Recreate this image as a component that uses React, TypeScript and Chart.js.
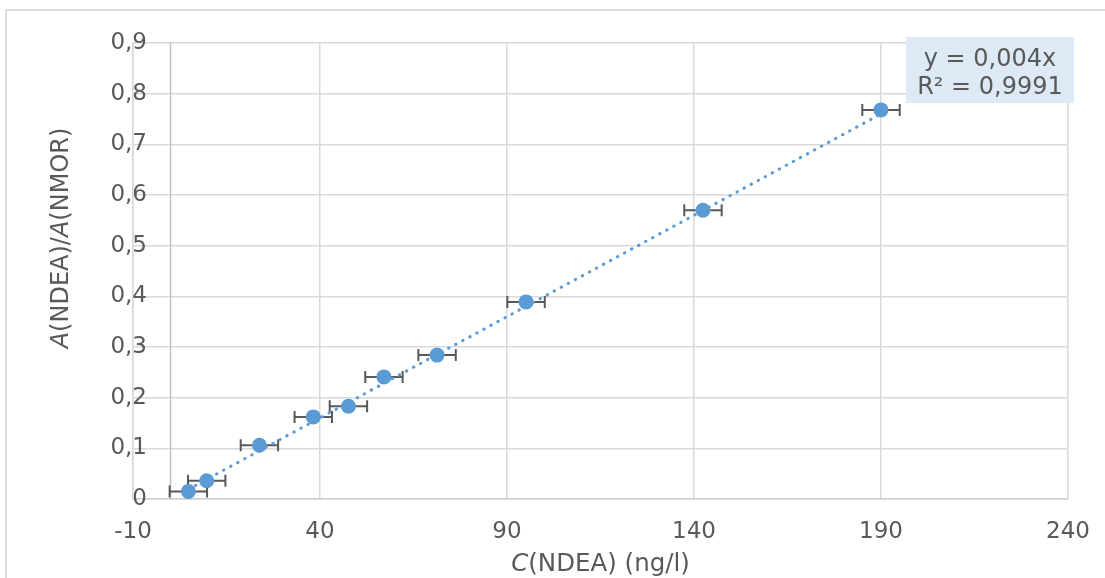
import React, { useEffect, useRef } from "react";
import { Chart, registerables } from "chart.js";

Chart.register(...registerables);

// ---- data ----
const concentrations = [4.8, 9.7, 23.8, 38.2, 47.6, 57.1, 71.3, 95.1, 142.4, 190.0];
const ratios = [0.015, 0.036, 0.106, 0.162, 0.183, 0.241, 0.284, 0.389, 0.570, 0.768];
const concentrationErrors = [5, 5, 5, 5, 5, 5, 5, 5, 5, 5];

const xTickValues = [-10, 40, 90, 140, 190, 240];
const xTickLabels = ["-10", "40", "90", "140", "190", "240"];
const yTickValues = [0, 0.1, 0.2, 0.3, 0.4, 0.5, 0.6, 0.7, 0.8, 0.9];
const yTickLabels = ["0", "0,1", "0,2", "0,3", "0,4", "0,5", "0,6", "0,7", "0,8", "0,9"];

const trendSlope = 0.004;
const trendX = [4.8, 190.0];
const equationLines = ["y = 0,004x", "R² = 0,9991"];

const xTitle = [
  { text: "C", italic: true },
  { text: "(NDEA) (ng/l)", italic: false },
];
const yTitle = [
  { text: "A", italic: true },
  { text: "(NDEA)/", italic: false },
  { text: "A", italic: true },
  { text: "(NMOR)", italic: false },
];

const FONT = '"DejaVu Sans", Verdana, sans-serif';
const TEXT = "#595959";
const BLUE = "#5b9bd5";
const GRID = "#d9d9d9";

type Seg = { text: string; italic: boolean };

function drawRich(ctx: CanvasRenderingContext2D, segs: Seg[], size: number) {
  const widths = segs.map((s) => {
    ctx.font = `${s.italic ? "italic " : ""}${size}px ${FONT}`;
    return ctx.measureText(s.text).width;
  });
  const total = widths.reduce((a, b) => a + b, 0);
  let x = -total / 2;
  ctx.textAlign = "left";
  ctx.textBaseline = "middle";
  segs.forEach((s, i) => {
    ctx.font = `${s.italic ? "italic " : ""}${size}px ${FONT}`;
    ctx.fillText(s.text, x, 0);
    x += widths[i];
  });
}

const decorPlugin = {
  id: "decor",
  beforeDatasetsDraw(chart: any) {
    const ctx: CanvasRenderingContext2D = chart.ctx;
    const xs = chart.scales.x;
    const ys = chart.scales.y;
    const ca = chart.chartArea;
    ctx.save();
    // vertical axis line at x = 0
    const x0 = Math.round(xs.getPixelForValue(0)) + 0.5;
    ctx.strokeStyle = "#bfbfbf";
    ctx.lineWidth = 1.5;
    ctx.beginPath();
    ctx.moveTo(x0, ca.top);
    ctx.lineTo(x0, ca.bottom);
    ctx.stroke();
    // horizontal error bars
    ctx.strokeStyle = "#595959";
    ctx.lineWidth = 2;
    concentrations.forEach((c, i) => {
      const e = concentrationErrors[i];
      const xa = xs.getPixelForValue(c - e);
      const xb = xs.getPixelForValue(c + e);
      const py = ys.getPixelForValue(ratios[i]);
      ctx.beginPath();
      ctx.moveTo(xa, py);
      ctx.lineTo(xb, py);
      ctx.moveTo(xa, py - 6);
      ctx.lineTo(xa, py + 6);
      ctx.moveTo(xb, py - 6);
      ctx.lineTo(xb, py + 6);
      ctx.stroke();
    });
    ctx.restore();
  },
  afterDraw(chart: any) {
    const ctx: CanvasRenderingContext2D = chart.ctx;
    const ca = chart.chartArea;
    ctx.save();
    ctx.fillStyle = TEXT;
    // x axis title
    ctx.save();
    ctx.translate((ca.left + ca.right) / 2, 565);
    drawRich(ctx, xTitle, 24.5);
    ctx.restore();
    // y axis title
    ctx.save();
    ctx.translate(62, 238);
    ctx.rotate(-Math.PI / 2);
    drawRich(ctx, yTitle, 24);
    ctx.restore();
    // trendline label
    const bw = 168;
    const bh = 66;
    const bx = ca.right + 6 - bw;
    const by = ca.top - 6;
    ctx.fillStyle = "#dde9f5";
    ctx.fillRect(bx, by, bw, bh);
    ctx.fillStyle = TEXT;
    ctx.font = `24px ${FONT}`;
    ctx.textAlign = "center";
    ctx.textBaseline = "alphabetic";
    ctx.fillText(equationLines[0], bx + bw / 2, by + 29);
    ctx.fillText(equationLines[1], bx + bw / 2, by + 57);
    ctx.restore();
  },
};

export default function App() {
  const canvasRef = useRef<HTMLCanvasElement | null>(null);

  useEffect(() => {
    const canvas = canvasRef.current;
    if (!canvas) return;
    const points = concentrations.map((c, i) => ({ x: c, y: ratios[i] }));
    const trend = trendX.map((x) => ({ x, y: trendSlope * x }));

    const chart = new Chart(canvas, {
      type: "scatter",
      data: {
        datasets: [
          {
            label: "NDEA",
            data: points,
            pointRadius: 7.5,
            pointHoverRadius: 7.5,
            pointBackgroundColor: BLUE,
            pointBorderColor: BLUE,
            pointBorderWidth: 0,
            showLine: false,
          },
          {
            label: "Trend",
            data: trend,
            showLine: true,
            pointRadius: 0,
            borderColor: BLUE,
            borderWidth: 3,
            borderDash: [0.5, 7.5],
            borderCapStyle: "round",
            fill: false,
          },
        ],
      },
      options: {
        responsive: false,
        animation: false,
        devicePixelRatio: 1,
        layout: { padding: { top: 43, right: 37, left: 0, bottom: 0 } },
        plugins: {
          legend: { display: false },
          tooltip: { enabled: false },
          title: { display: false },
        },
        events: [],
        scales: {
          x: {
            type: "linear",
            min: -10,
            max: 240,
            afterBuildTicks: (scale: any) => {
              scale.ticks = xTickValues.map((v) => ({ value: v }));
            },
            afterFit: (scale: any) => {
              scale.height = 79;
              scale.paddingLeft = 0;
              scale.paddingRight = 0;
            },
            ticks: {
              callback: (_v: any, i: number) => xTickLabels[i],
              color: TEXT,
              font: { family: FONT, size: 23 },
              padding: 19,
              maxRotation: 0,
              autoSkip: false,
            },
            grid: { color: GRID, lineWidth: 1.5, drawTicks: false },
            border: { display: true, color: "#cfcfcf", width: 1.5 },
          },
          y: {
            type: "linear",
            min: 0,
            max: 0.9,
            afterBuildTicks: (scale: any) => {
              scale.ticks = yTickValues.map((v) => ({ value: v }));
            },
            afterFit: (scale: any) => {
              scale.width = 133;
            },
            ticks: {
              callback: (_v: any, i: number) => yTickLabels[i],
              color: TEXT,
              font: { family: FONT, size: 23 },
              mirror: true,
              crossAlign: "far",
              padding: -22.6,
              autoSkip: false,
            },
            grid: { color: GRID, lineWidth: 1.5, drawTicks: false },
            border: { display: true, color: GRID, width: 1.5 },
          },
        },
      },
      plugins: [decorPlugin],
    } as any);

    return () => chart.destroy();
  }, []);

  return (
    <div
      style={{
        position: "fixed",
        left: 0,
        top: 0,
        width: 1105,
        height: 578,
        background: "#ffffff",
        overflow: "hidden",
      }}
    >
      <canvas
        ref={canvasRef}
        width={1105}
        height={578}
        style={{ display: "block", width: 1105, height: 578 }}
      />
      <div
        style={{
          position: "absolute",
          left: 5,
          top: 9,
          width: 1200,
          height: 700,
          borderLeft: "2px solid #dcdcdc",
          borderTop: "2px solid #dcdcdc",
          pointerEvents: "none",
        }}
      />
    </div>
  );
}
